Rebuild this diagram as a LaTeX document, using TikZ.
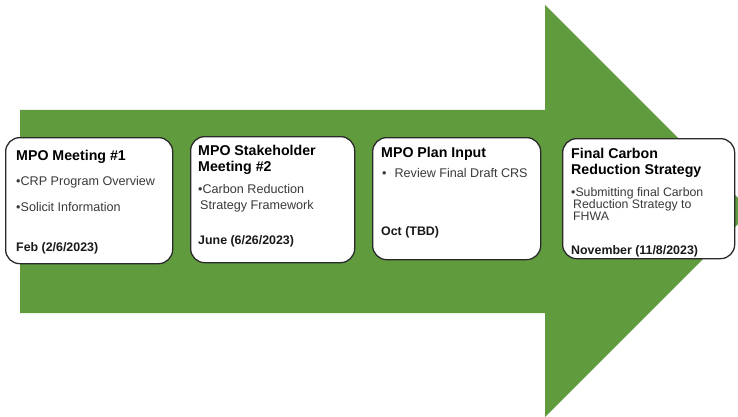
\documentclass[tikz,border=0pt]{standalone}
\usepackage{fontspec}
\setmainfont{Liberation Sans}
\definecolor{arrowgreen}{HTML}{609C3E}
\definecolor{boxline}{HTML}{2A2A2A}
\definecolor{bodygray}{HTML}{3A3A3A}
\begin{document}
\begin{tikzpicture}[x=1pt,y=-1pt,
  stagebox/.style={draw=boxline,line width=1.3pt,fill=white,rounded corners=14pt,anchor=north west,inner sep=0pt},
  head/.style={anchor=west,inner sep=0pt,font=\fontsize{14.2}{16.5}\selectfont\bfseries,align=left,text=black},
  body/.style={anchor=west,inner sep=0pt,font=\fontsize{12.6}{16.5}\selectfont,align=left,text=bodygray},
  smallbody/.style={anchor=west,inner sep=0pt,font=\fontsize{12.3}{12}\selectfont,align=left,text=bodygray},
  datetxt/.style={anchor=west,inner sep=0pt,font=\fontsize{12.4}{14}\selectfont\bfseries,text=black!90}]
\useasboundingbox (0,0) rectangle (738,417);
\fill[white] (0,0) rectangle (738,417);
% big arrow
\fill[arrowgreen] (20,110) -- (545,110) -- (545,5) -- (751,211) -- (545,417) -- (545,313) -- (20,313) -- cycle;
% boxes
\node[stagebox,minimum width=167pt,minimum height=126pt] (b1) at (5,137) {};
\node[stagebox,minimum width=164pt,minimum height=126pt] (b2) at (190,136) {};
\node[stagebox,minimum width=168pt,minimum height=122pt] (b3) at (372,137) {};
\node[stagebox,minimum width=172pt,minimum height=120pt] (b4) at (562,138) {};
% box 1
\node[head] (h1) at (16,157) {MPO Meeting \#1};
\node[body] (t1a) at (16,182) {•CRP Program Overview};
\node[body] (t1b) at (16,207) {•Solicit Information};
\node[datetxt] (d1) at (16,248) {Feb (2/6/2023)};
% box 2
\node[head] (h2) at (198,160) {MPO Stakeholder\\Meeting \#2};
\node[body] (t2) at (198,198) {•Carbon Reduction\\\hspace*{2pt}Strategy Framework};
\node[datetxt] (d2) at (198,241) {June (6/26/2023)};
% box 3
\node[head] (h3) at (381,154) {MPO Plan Input};
\node[body] (t3) at (382,173) {•\hspace{8pt}Review Final Draft CRS};
\node[datetxt] (d3) at (381,232) {Oct (TBD)};
% box 4
\node[head] (h4) at (571,163) {Final Carbon\\Reduction Strategy};
\node[smallbody] (t4) at (571,204) {•Submitting final Carbon\\\hspace*{2pt}Reduction Strategy to\\\hspace*{2pt}FHWA};
\node[datetxt] (d4) at (571,251) {November (11/8/2023)};
\end{tikzpicture}
\end{document}
